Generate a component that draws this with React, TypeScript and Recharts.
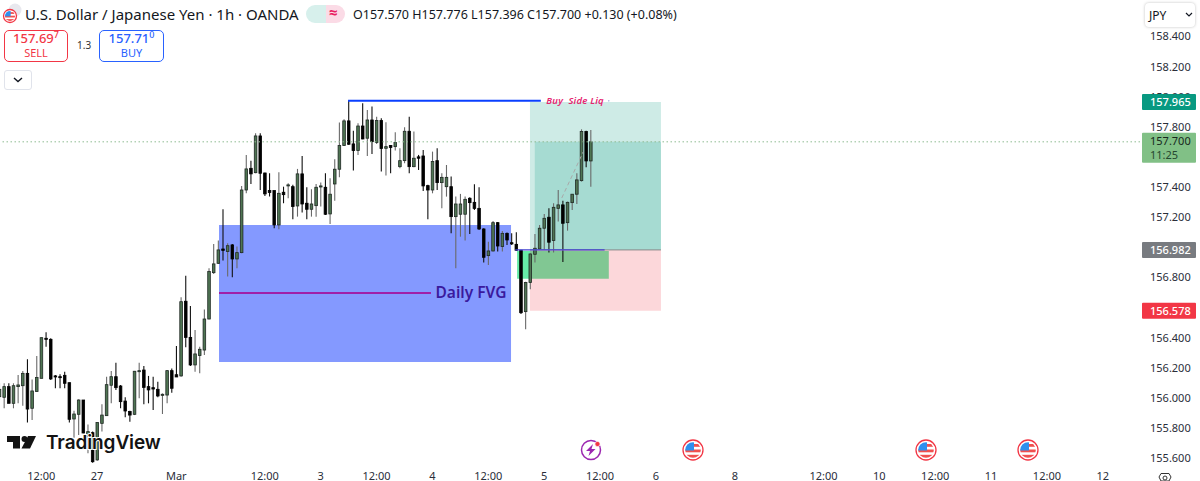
import React from "react";
import { ComposedChart, Bar, XAxis, YAxis, ReferenceArea, ReferenceLine, ReferenceDot } from "recharts";

const FONT = "'Noto Sans', 'Open Sans', sans-serif";

const opens = [156.007,156.003,156.074,155.963,156.074,156.080,156.162,155.930,156.041,156.129,156.395,156.388,156.145,156.140,156.149,156.100,155.859,155.890,155.985,155.742,155.768,155.587,155.830,155.881,156.083,156.140,156.078,155.978,155.908,155.890,156.173,156.184,156.074,156.067,156.056,156.016,156.018,156.180,156.153,156.145,156.641,156.401,156.218,156.280,156.317,156.523,156.831,156.893,156.988,156.971,157.015,156.922,156.964,157.380,157.524,157.495,157.739,157.493,157.376,157.376,157.148,157.365,157.407,157.402,157.274,157.487,157.292,157.252,157.276,157.400,157.398,157.221,157.420,157.518,157.675,157.839,157.686,157.642,157.805,157.724,157.845,157.695,157.841,157.657,157.675,157.668,157.535,157.575,157.770,157.535,157.600,157.606,157.409,157.380,157.575,157.429,157.402,157.402,157.203,157.219,157.219,157.325,157.298,157.258,157.121,156.944,156.975,157.163,157.004,157.092,157.030,157.019,156.980,156.572,156.765,156.953,156.988,157.126,157.199,157.044,157.258,157.281,157.163,157.296,157.352,157.442,157.768,157.573];
const highs = [156.096,156.096,156.096,156.096,156.151,156.178,156.255,156.122,156.277,156.401,156.435,156.395,156.151,156.156,156.173,156.102,155.914,155.990,155.985,155.823,155.775,155.837,155.956,156.140,156.178,156.233,156.085,156.003,155.914,156.178,156.233,156.211,156.145,156.140,156.107,156.029,156.184,156.195,156.344,156.667,156.811,156.610,156.450,156.339,156.587,156.860,157.022,157.044,157.252,157.026,157.022,157.004,157.407,157.613,157.575,157.757,157.757,157.495,157.491,157.376,157.498,157.402,157.425,157.414,157.520,157.606,157.398,157.385,157.420,157.429,157.491,157.458,157.584,157.828,157.850,157.974,157.774,157.823,157.956,157.912,157.934,157.867,157.856,157.830,157.679,157.763,157.657,157.797,157.867,157.768,157.613,157.646,157.414,157.635,157.657,157.491,157.546,157.469,157.336,157.354,157.336,157.332,157.418,157.398,157.126,157.037,157.174,157.168,157.108,157.097,157.092,157.099,156.982,156.771,156.960,157.088,157.148,157.221,157.258,157.292,157.380,157.309,157.303,157.354,157.491,157.783,157.774,157.779];
const lows = [155.985,155.930,155.963,155.930,155.963,155.947,155.835,155.852,156.041,156.129,156.339,156.118,156.063,156.063,156.063,155.835,155.735,155.753,155.764,155.631,155.569,155.582,155.775,155.881,155.963,156.052,155.930,155.870,155.841,155.885,155.996,155.956,155.963,155.919,156.003,155.892,155.963,156.034,156.138,156.140,156.335,156.211,156.173,156.162,156.284,156.521,156.822,156.889,156.911,156.805,156.800,156.860,156.960,157.358,157.420,157.491,157.380,157.340,157.336,157.126,157.119,157.292,157.325,157.185,157.203,157.230,157.185,157.203,157.203,157.270,157.214,157.154,157.309,157.464,157.673,157.679,157.509,157.613,157.717,157.606,157.619,157.686,157.502,157.476,157.491,157.642,157.524,157.557,157.491,157.531,157.513,157.374,157.185,157.358,157.380,157.258,157.336,157.092,156.860,157.070,157.044,157.088,157.247,157.115,156.898,156.882,156.971,156.971,156.971,157.015,157.015,156.977,156.557,156.455,156.720,156.898,156.982,156.982,156.964,156.964,157.170,156.902,157.110,157.247,157.287,157.436,157.531,157.402];
const closes = [156.056,156.074,155.963,156.080,156.085,156.162,155.925,156.045,156.134,156.399,156.388,156.125,156.138,156.136,156.096,155.857,155.892,155.985,155.766,155.775,155.575,155.835,155.885,156.087,156.140,156.067,155.974,155.912,155.885,156.176,156.180,156.069,156.052,156.058,156.012,156.023,156.180,156.063,156.138,156.638,156.401,156.218,156.291,156.322,156.523,156.838,156.889,156.982,156.979,157.010,156.922,156.964,157.380,157.520,157.487,157.739,157.491,157.354,157.363,157.148,157.358,157.349,157.414,157.270,157.487,157.287,157.252,157.287,157.398,157.407,157.219,157.352,157.518,157.675,157.839,157.684,157.642,157.805,157.719,157.845,157.701,157.841,157.655,157.668,157.662,157.695,157.575,157.770,157.535,157.591,157.591,157.407,157.380,157.569,157.429,157.464,157.464,157.203,157.287,157.287,157.318,157.296,157.258,157.121,156.933,156.975,157.163,157.008,157.092,157.048,157.022,156.980,156.565,156.765,156.955,156.993,157.126,157.192,157.033,157.265,157.281,157.159,157.298,157.352,157.447,157.768,157.573,157.700];

const candles = opens.map((open, i) => ({ bar: i, open, high: highs[i], low: lows[i], close: closes[i] }));

const priceTicks = [155.6,155.8,156.0,156.2,156.4,156.8,157.2,157.4,157.8,158.0,158.2,158.4];
const PARTLY_COVERED_TICK = 158.0;
const timeTicks = [9,21,38,57,69,81,93,105,117,129,141,158,177,189,201,213,225,237];
const timeLabels = ["12:00","27","Mar","12:00","3","12:00","4","12:00","5","12:00","6","8","12:00","10","12:00","11","12:00","12"];

const priceBadges = [
  { y: 157.965, text: "157.965", fill: "#089981" },
  { y: 156.982, text: "156.982", fill: "#787b80" },
  { y: 156.578, text: "156.578", fill: "#f23645" },
];

function Candle(props: any) {
  const { x, y, width, height, payload } = props;
  const top = Math.min(y, y + height);
  const h = Math.abs(height);
  const cx = x + width / 2;
  const range = payload.high - payload.low || 1;
  const unit = h / range;
  const bodyHi = Math.max(payload.open, payload.close);
  const bodyLo = Math.min(payload.open, payload.close);
  const by = top + (payload.high - bodyHi) * unit;
  const bh = Math.max((bodyHi - bodyLo) * unit, 1);
  const up = payload.close >= payload.open;
  return (
    <g>
      <line x1={cx} x2={cx} y1={top} y2={top + h} stroke={up ? "#6a6a6a" : "#111"} strokeWidth={1.1} />
      <rect x={cx - 1.3} y={by} width={2.6} height={bh} fill={up ? "#4f7553" : "#000"} stroke={up ? "#1f2823" : "#000"} strokeWidth={0.8} />
    </g>
  );
}

function PriceTick(props: any) {
  const { x, y, payload } = props;
  const covered = payload.value === PARTLY_COVERED_TICK;
  return (
    <g>
      {covered && (
        <clipPath id="covered-tick"><rect x={x - 5} y={y - 12} width={60} height={9.5} /></clipPath>
      )}
      <text
        x={x} y={y + 4}
        fontFamily={FONT} fontSize={11} fill="#2a2e39"
        clipPath={covered ? "url(#covered-tick)" : undefined}
      >
        {payload.value.toFixed(3)}
      </text>
    </g>
  );
}

function Badge(props: any) {
  const { viewBox, text, fill } = props;
  const x = viewBox.x + viewBox.width + 2;
  const y = viewBox.y;
  return (
    <g>
      <rect x={x} y={y - 8} width={54} height={16} rx={1} fill={fill} />
      <text x={x + 8} y={y + 4} fontFamily={FONT} fontSize={11} fontWeight={500} fill="#fff">{text}</text>
    </g>
  );
}

function CurrentBadge(props: any) {
  const { viewBox } = props;
  const x = viewBox.x + viewBox.width + 2;
  const y = viewBox.y;
  return (
    <g>
      <rect x={x} y={y - 9} width={54} height={30} rx={1} fill="#81c086" />
      <text x={x + 8} y={y + 3.5} fontFamily={FONT} fontSize={11} fill="#16281c">157.700</text>
      <text x={x + 8} y={y + 17} fontFamily={FONT} fontSize={11} fill="#26482f">11:25</text>
    </g>
  );
}

function Flag({ cx, cy, r }: { cx: number; cy: number; r: number }) {
  const id = "f" + cx;
  return (
    <g>
      <clipPath id={id}><circle cx={cx} cy={cy} r={r * 0.78} /></clipPath>
      <circle cx={cx} cy={cy} r={r} fill="#fff" stroke="#f23645" strokeWidth={1.3} />
      <g clipPath={`url(#${id})`}>
        <rect x={cx - r} y={cy - r} width={2 * r} height={2 * r} fill="#fff" />
        <rect x={cx - r} y={cy - r * 0.05} width={2 * r} height={r * 0.28} fill="#f0504f" />
        <rect x={cx - r} y={cy + r * 0.48} width={2 * r} height={r * 0.32} fill="#f0504f" />
        <rect x={cx} y={cy - r * 0.6} width={r} height={r * 0.28} fill="#f0504f" />
        <rect x={cx - r} y={cy - r} width={r * 1.1} height={r * 1.05} fill="#2f8fee" />
      </g>
    </g>
  );
}

function Header() {
  const base: React.CSSProperties = { position: "absolute", whiteSpace: "nowrap", fontFamily: FONT };
  return (
    <>
      <svg style={{ position: "absolute", left: 0, top: 0 }} width={1200} height={481}>
        <circle cx={15} cy={10} r={6.5} fill="#e8e8ee" />
        <Flag cx={10} cy={16} r={6.5} />
        <circle cx={317} cy={14} r={3.6} fill="#089981" />
        {/* tradingview mark */}
        <polygon points="7,436 20,436 20,448.5 13,448.5 13,442 7,442" fill="#131313" />
        <circle cx={24.5} cy={439} r={3} fill="#131313" />
        <polygon points="28,436 36,436 30,448.5 21.5,448.5" fill="#131313" />
        <text x={46} y={449} fontFamily="Inter, sans-serif" fontSize={19} fontWeight={600} letterSpacing={-0.1} fill="#131313" stroke="#fff" strokeWidth={2} paintOrder="stroke">TradingView</text>
        {/* events */}
        <circle cx={591} cy={450} r={9.5} fill="#fff" stroke="#9c27b0" strokeWidth={1.5} />
        <polygon points="593,444 586,451 590,451 588.5,456 595.5,449 591.5,449" fill="#9c27b0" />
        <circle cx={597.5} cy={444} r={2.6} fill="#f23645" stroke="#fff" strokeWidth={0.7} />
        <Flag cx={693} cy={450} r={10} />
        <Flag cx={926} cy={450} r={10} />
        <Flag cx={1028} cy={450} r={10} />
        {/* settings */}
        <polygon points="1161,481 1159,477 1161,473.5 1169,473.5 1171,477 1169,481" fill="none" stroke="#333" strokeWidth={1} />
        <circle cx={1165} cy={478} r={2} fill="none" stroke="#333" strokeWidth={1} />
      </svg>
      <div style={{ ...base, left: 25, top: 4, fontSize: 15, color: "#131722" }}>U.S. Dollar / Japanese Yen · 1h · OANDA</div>
      <div style={{ position: "absolute", left: 306, top: 5, width: 20, height: 18, background: "#d7f0ec", borderRadius: "9px 0 0 9px" }} />
      <div style={{ position: "absolute", left: 326, top: 5, width: 19, height: 18, background: "#fbdbe6", borderRadius: "0 9px 9px 0" }} />
      <div style={{ ...base, left: 329, top: 2, fontSize: 15, fontWeight: 700, color: "#e91e63" }}>≈</div>
      <div style={{ ...base, left: 353, top: 6, fontSize: 12.5, color: "#131722" }}>O157.570 H157.776 L157.396 C157.700 +0.130 (+0.08%)</div>

      <div style={{ position: "absolute", left: 4, top: 30, width: 64, height: 32, border: "1px solid #f23645", borderRadius: 5, boxSizing: "border-box" }} />
      <div style={{ ...base, left: 4, width: 64, top: 31, height: 15, lineHeight: "15px", textAlign: "center", fontSize: 13, color: "#f23645", fontWeight: 500 }}>157.69<sup style={{ fontSize: 9, lineHeight: 0 }}>7</sup></div>
      <div style={{ ...base, left: 4, width: 64, top: 46, height: 14, lineHeight: "14px", textAlign: "center", fontSize: 11, color: "#f23645" }}>SELL</div>
      <div style={{ ...base, left: 77, top: 38, fontSize: 10, color: "#333" }}>1.3</div>
      <div style={{ position: "absolute", left: 99, top: 30, width: 65, height: 32, border: "1px solid #2962ff", borderRadius: 5, boxSizing: "border-box" }} />
      <div style={{ ...base, left: 99, width: 65, top: 31, height: 15, lineHeight: "15px", textAlign: "center", fontSize: 13, color: "#2962ff", fontWeight: 500 }}>157.71<sup style={{ fontSize: 9, lineHeight: 0 }}>0</sup></div>
      <div style={{ ...base, left: 99, width: 65, top: 46, height: 14, lineHeight: "14px", textAlign: "center", fontSize: 11, color: "#2962ff" }}>BUY</div>
      <div style={{ position: "absolute", left: 4, top: 70, width: 28, height: 20, border: "1px solid #e0e3eb", borderRadius: 3, boxSizing: "border-box" }} />
      <svg style={{ position: "absolute", left: 13, top: 76 }} width={10} height={8}>
        <polyline points="1,2 5,5.5 9,2" fill="none" stroke="#131722" strokeWidth={1.4} />
      </svg>

      <div style={{ position: "absolute", left: 1145, top: 3, width: 50, height: 24, background: "#fff", borderRadius: 4, boxShadow: "0 0 3px rgba(0,0,0,.25)" }} />
      <div style={{ ...base, left: 1149, top: 7, fontSize: 12, color: "#131722" }}>JPY</div>
      <svg style={{ position: "absolute", left: 1185, top: 12 }} width={8} height={6}>
        <polyline points="1,1 4,4 7,1" fill="none" stroke="#131722" strokeWidth={1.2} />
      </svg>
    </>
  );
}

export default function App() {
  return (
    <div style={{ position: "absolute", left: 0, top: 0, width: 1200, height: 481, overflow: "hidden", background: "#fff" }}>
      <ComposedChart width={1200} height={481} data={candles} margin={{ top: 0, right: 0, bottom: 0, left: 0 }}>
        <XAxis
          dataKey="bar"
          type="number"
          domain={[0.1418, 244.99]}
          allowDataOverflow
          ticks={timeTicks}
          interval={0}
          height={14}
          tickLine={false}
          axisLine={false}
          tickMargin={0}
          tickFormatter={(v: number) => timeLabels[timeTicks.indexOf(v)]}
          tick={{ fontFamily: FONT, fontSize: 11, fill: "#2a2e39", dy: -1 }}
        />
        <YAxis
          orientation="right"
          type="number"
          width={60}
          domain={[155.54, 158.642]}
          allowDataOverflow
          ticks={priceTicks}
          interval={0}
          tickLine={false}
          axisLine={false}
          tickMargin={4}
          tick={<PriceTick />}
        />
        <ReferenceArea x1={47.18} x2={109.9} y1={156.238} y2={157.148} fill="#8499ff" fillOpacity={1} stroke="none" />
        <ReferenceArea x1={111.2} x2={130.9} y1={156.79} y2={156.975} fill="#66eca7" fillOpacity={1} stroke="none" />
        <ReferenceArea x1={113.97} x2={142.1} y1={156.982} y2={157.965} fill="#089981" fillOpacity={0.2} stroke="none" />
        <ReferenceArea x1={115} x2={142.1} y1={156.982} y2={157.7} fill="#089981" fillOpacity={0.2} stroke="none" />
        <ReferenceArea x1={113.97} x2={142.1} y1={156.578} y2={156.982} fill="#f23645" fillOpacity={0.2} stroke="none" />
        <ReferenceLine y={157.7} stroke="#8fbd92" strokeWidth={1} strokeDasharray="1.5 2.5" />
        <ReferenceLine segment={[{ x: 47.18, y: 156.696 }, { x: 92.7, y: 156.696 }]} stroke="#a020a8" strokeWidth={2} />
        <ReferenceLine segment={[{ x: 74.9, y: 157.972 }, { x: 116.3, y: 157.972 }]} stroke="#0a3fff" strokeWidth={2} />
        <ReferenceLine segment={[{ x: 113.97, y: 156.982 }, { x: 142.1, y: 156.982 }]} stroke="#8a8a8a" strokeWidth={1} />
        <ReferenceLine segment={[{ x: 110.8, y: 156.982 }, { x: 130, y: 156.982 }]} stroke="#3f3fd0" strokeWidth={1.3} />
        <ReferenceLine segment={[{ x: 120.8, y: 157.327 }, { x: 125.4, y: 157.633 }]} stroke="#a9a9a9" strokeWidth={1} strokeDasharray="4 3" />
        <ReferenceDot x={92.6} y={156.696} r={0} label={{ value: "Daily FVG", position: "right", fontFamily: FONT, fontSize: 15.5, fontWeight: 600, fill: "#3a1a9e" }} />
        <ReferenceDot x={116.4} y={157.972} r={0} label={{ value: "Buy\u00a0\u00a0Side Liq", position: "right", fontFamily: FONT, fontSize: 9.5, fontStyle: "italic", fontWeight: 600, letterSpacing: 0.2, fill: "#e5246f" }} />
        <ReferenceDot x={130.9} y={157.972} r={0.7} fill="#7f8fd0" stroke="none" />
        <Bar dataKey={(d: any) => [d.low, d.high]} barSize={3} shape={<Candle />} isAnimationActive={false} />
        <ReferenceLine y={157.7} stroke="none" label={<CurrentBadge />} />
        {priceBadges.map((b) => (
          <ReferenceLine key={b.text} y={b.y} stroke="none" label={<Badge text={b.text} fill={b.fill} />} />
        ))}
      </ComposedChart>
      <Header />
    </div>
  );
}
